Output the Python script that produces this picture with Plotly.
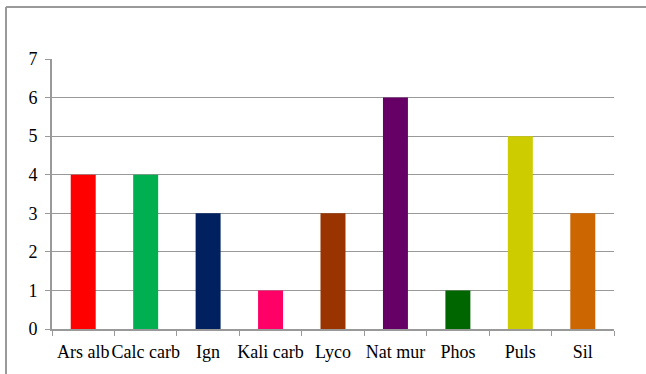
import plotly.graph_objects as go

categories = ["Ars alb", "Calc carb", "Ign", "Kali carb", "Lyco", "Nat mur", "Phos", "Puls", "Sil"]
values = [4, 4, 3, 1, 3, 6, 1, 5, 3]
colors = ["#FF0000", "#00B050", "#002060", "#FF0066", "#993300", "#660066", "#006600", "#CCCC00", "#CC6600"]
y_ticks = [0, 1, 2, 3, 4, 5, 6, 7]

fig = go.Figure(go.Bar(x=categories, y=values, marker=dict(color=colors, line=dict(width=0)), width=0.4))

W, H = 646, 374
L, R, T, B = 52, 32, 59, 45
pw, ph = W - L - R, H - T - B

fig.update_layout(
    width=W, height=H,
    margin=dict(l=L, r=R, t=T, b=B, autoexpand=False),
    paper_bgcolor="white", plot_bgcolor="white",
    font=dict(family="Liberation Serif", size=18, color="black"),
    showlegend=False,
)
fig.update_xaxes(
    showline=True, linecolor="#999999", linewidth=2,
    ticks="outside", tickson="boundaries", ticklen=5, tickcolor="#999999", tickwidth=1,
    tickangle=0, automargin=False, ticklabelstandoff=5,
    showgrid=False, fixedrange=True,
)
fig.update_yaxes(
    range=[0, 7], tickvals=y_ticks,
    showline=True, linecolor="#999999", linewidth=2,
    ticks="outside", ticklen=5, tickcolor="#999999",
    showgrid=True, gridcolor="#999999", gridwidth=1,
    zeroline=False, fixedrange=True, automargin=False, ticklabelstandoff=4,
)
x_left = (6 - L) / pw
y_top = 1 + (T - 7) / ph
fig.add_shape(type="line", xref="paper", yref="paper", x0=x_left, x1=2.0, y0=y_top, y1=y_top,
              line=dict(color="#999999", width=2), layer="below")
fig.add_shape(type="line", xref="paper", yref="paper", x0=x_left, x1=x_left, y0=-1.0, y1=y_top,
              line=dict(color="#999999", width=2), layer="below")
fig.write_html("out.html")
